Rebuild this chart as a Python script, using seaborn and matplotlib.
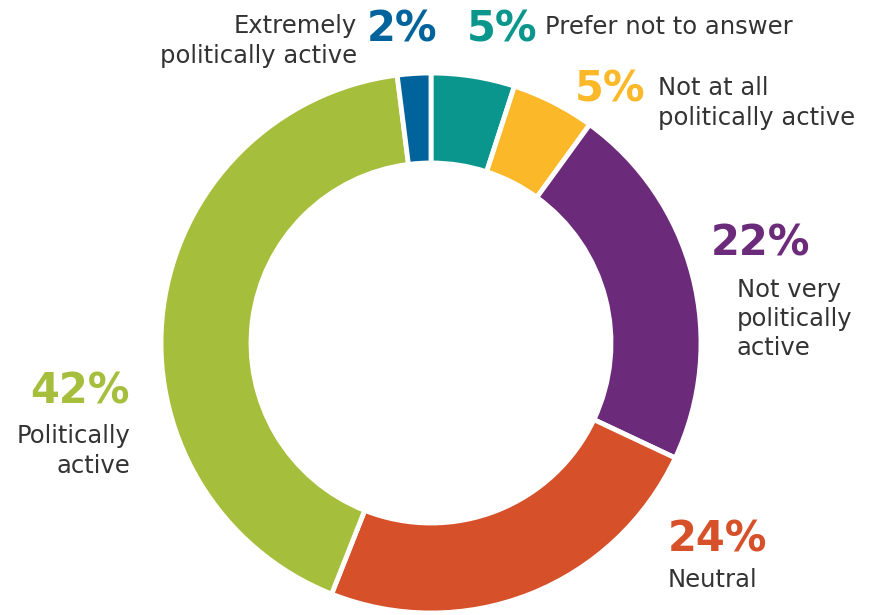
import matplotlib
matplotlib.use('Agg')
import matplotlib.pyplot as plt
import seaborn as sns

# Dados do gráfico (sentido horário, a partir do topo)
categorias = ['Prefer not to answer', 'Not at all\npolitically active', 'Not very\npolitically\nactive',
              'Neutral', 'Politically\nactive', 'Extremely\npolitically active']
valores = [5, 5, 22, 24, 42, 2]
cores = ['#0a968d', '#fbb829', '#6b2a7a', '#d6502a', '#a5bf3c', '#00639c']

sns.set_theme(style='white')
plt.rcParams['font.family'] = ['DejaVu Sans']

fig = plt.figure(figsize=(8.8, 6.15), dpi=100)
ax = fig.add_axes([0, 0, 1, 1])
H = 615

ax.pie(valores, colors=cores, startangle=90, counterclock=False,
       radius=270, center=(431, H - 343),
       wedgeprops=dict(width=90, edgecolor='white', linewidth=3.5))
ax.set_xlim(0, 880)
ax.set_ylim(0, H)
ax.set_aspect('equal')
ax.axis('off')

texto = '#333333'
pct = dict(fontsize=30, fontweight='bold', va='center')
lab = dict(fontsize=17.5, color=texto, va='center', linespacing=1.27)

# Extremely politically active
ax.text(437, H - 29, f'{valores[5]}%', color=cores[5], ha='right', **pct)
ax.text(357, H - 41, categorias[5], ha='right', **lab)
# Prefer not to answer
ax.text(467, H - 29, f'{valores[0]}%', color=cores[0], ha='left', **pct)
ax.text(545, H - 27, categorias[0], ha='left', **lab)
# Not at all
ax.text(645, H - 89, f'{valores[1]}%', color=cores[1], ha='right', **pct)
ax.text(658, H - 103, categorias[1], ha='left', **lab)
# Not very
ax.text(810, H - 243, f'{valores[2]}%', color=cores[2], ha='right', **pct)
ax.text(737, H - 319, categorias[2], ha='left', **lab)
# Politically active
ax.text(130, H - 391, f'{valores[4]}%', color=cores[4], ha='right', **pct)
ax.text(130, H - 451, categorias[4], ha='right', multialignment='right', **lab)
# Neutral
ax.text(668, H - 539, f'{valores[3]}%', color=cores[3], ha='left', **pct)
ax.text(668, H - 580, categorias[3], ha='left', **lab)

fig.savefig('out.png', dpi=100, facecolor='white')
